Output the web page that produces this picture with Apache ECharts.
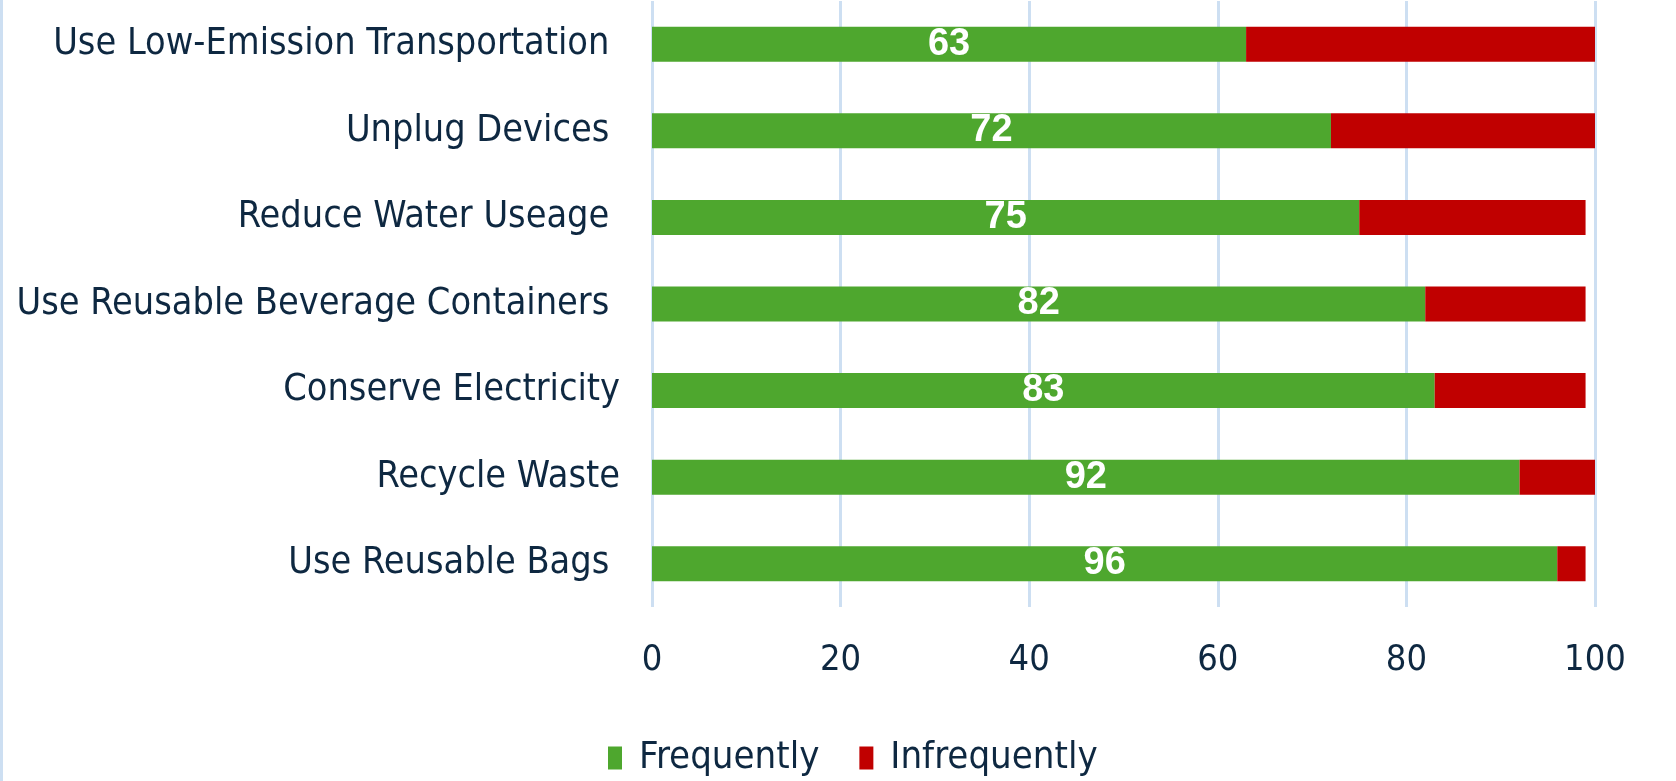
<!DOCTYPE html>
<html>
<head>
<meta charset="utf-8">
<script src="https://cdn.jsdelivr.net/npm/echarts@6/dist/echarts.min.js"></script>
<style>
  html, body { margin: 0; padding: 0; background: #fff; }
  #chart { width: 1676px; height: 781px; }
</style>
</head>
<body>
<div id="chart"></div>
<script>
// categories, top to bottom
const categories = [
  'Use Low-Emission Transportation ',
  'Unplug Devices ',
  'Reduce Water Useage ',
  'Use Reusable Beverage Containers ',
  'Conserve Electricity',
  'Recycle Waste',
  'Use Reusable Bags '
]
const frequently = [63, 72, 75, 82, 83, 92, 96]
const infrequently = [37, 28, 24, 17, 16, 8, 3]
const seriesNames = ['Frequently', 'Infrequently']

const textColor = '#0e2841'
const fontFamily = "'Liberation Sans Narrow', 'DejaVu Sans Condensed', sans-serif"

const chart = echarts.init(document.getElementById('chart'))

chart.setOption({
  animation: false,
  textStyle: { fontFamily: fontFamily },
  graphic: [{
    type: 'rect',
    shape: { x: 0, y: 0, width: 3, height: 781 },
    style: { fill: '#cddff2' }
  }],
  legend: {
    top: 734,
    left: 603,
    itemWidth: 14,
    itemHeight: 23,
    itemGap: 40,
    icon: 'rect',
    textStyle: {
      fontSize: 38,
      color: textColor,
      fontFamily: fontFamily,
      padding: [0, 0, 0, 12]
    },
    data: seriesNames
  },
  grid: {
    left: 652,
    right: 81,
    top: 1,
    height: 606,
    outerBoundsMode: 'none'
  },
  xAxis: {
    type: 'value',
    min: 0,
    max: 100,
    interval: 20,
    axisLine: { show: false },
    axisTick: { show: false },
    axisLabel: {
      fontSize: 36,
      color: textColor,
      margin: 36
    },
    splitLine: {
      lineStyle: { color: '#cddff2', width: 3 }
    }
  },
  yAxis: {
    type: 'category',
    inverse: true,
    data: categories,
    axisLine: { show: false },
    axisTick: { show: false },
    axisLabel: {
      fontSize: 37.5,
      color: textColor,
      margin: 32
    }
  },
  series: [
    {
      name: seriesNames[0],
      type: 'bar',
      stack: 'total',
      barWidth: 35,
      data: frequently,
      itemStyle: { color: '#4ea72e' },
      label: {
        show: true,
        position: 'inside',
        color: '#fff',
        fontWeight: 'bold',
        fontSize: 38,
        fontFamily: "'Liberation Sans', Arial, sans-serif"
      }
    },
    {
      name: seriesNames[1],
      type: 'bar',
      stack: 'total',
      barWidth: 35,
      data: infrequently,
      itemStyle: { color: '#c00000' }
    }
  ]
})
</script>
</body>
</html>
